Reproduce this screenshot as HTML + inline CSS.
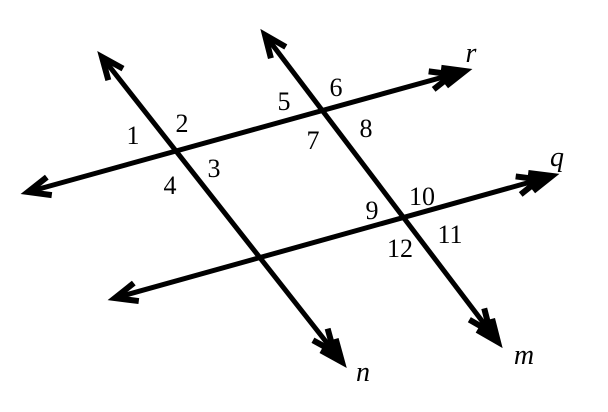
<!DOCTYPE html>
<html><head><style>html,body{margin:0;padding:0;background:#fff}</style></head>
<body>
<svg id="s" width="608" height="412" xmlns="http://www.w3.org/2000/svg" style="display:block">
<g font-family="Liberation Serif, serif" font-size="26" text-anchor="middle" fill="#000">
<text x="133" y="144">1</text>
<text x="182" y="132">2</text>
<text x="214" y="177">3</text>
<text x="170" y="194">4</text>
<text x="284" y="110">5</text>
<text x="336" y="96">6</text>
<text x="313" y="149">7</text>
<text x="366" y="137">8</text>
<text x="372" y="219">9</text>
<text x="422" y="205">10</text>
<text x="450" y="243">11</text>
<text x="400" y="257">12</text>
<g font-style="italic" font-size="28">
<text x="471" y="62">r</text>
<text x="557" y="166">q</text>
<text x="363" y="381">n</text>
<text x="524" y="364">m</text>
</g>
</g>
<g id="L" stroke="#000" stroke-width="5" fill="none" stroke-linecap="butt" stroke-linejoin="miter"></g>
</svg>
<script>
var g=document.getElementById('L');
function line(x1,y1,x2,y2,d1,d2){
 var p=document.createElementNS('http://www.w3.org/2000/svg','line');
 p.setAttribute('x1',x1);p.setAttribute('y1',y1);p.setAttribute('x2',x2);p.setAttribute('y2',y2);g.appendChild(p);
 head(x1,y1,x2,y2,d1);head(x2,y2,x1,y1,d2);
}
function head(tx,ty,ox,oy,n){
 var dx=ox-tx,dy=oy-ty,L=Math.hypot(dx,dy);dx/=L;dy/=L;
 for(var k=0;k<n;k++){
  var x=tx+dx*k*13,y=ty+dy*k*13,a=0.4,l=24;
  var c=Math.cos(a),s=Math.sin(a);
  var ax=x+l*(dx*c-dy*s),ay=y+l*(dx*s+dy*c);
  var bx=x+l*(dx*c+dy*s),by=y+l*(-dx*s+dy*c);
  var p=document.createElementNS('http://www.w3.org/2000/svg','polyline');
  p.setAttribute('points',ax+','+ay+' '+x+','+y+' '+bx+','+by);
  p.setAttribute('stroke-width','6');
  g.appendChild(p);
 }
}
line(28,192,465,71,1,2);
line(115,298,552,176,1,2);
line(102,57,342,362,1,2);
line(265,35,498,342,1,2);
</script>
</body></html>
